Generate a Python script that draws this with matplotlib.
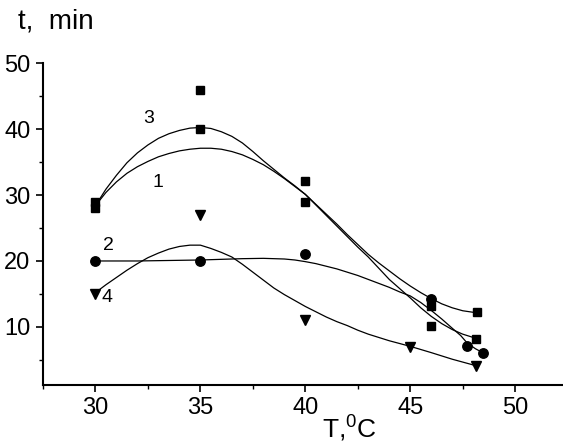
import numpy as np
import matplotlib.pyplot as plt

plt.rcParams['font.family'] = ['Liberation Sans', 'DejaVu Sans']
plt.rcParams['mathtext.fontset'] = 'custom'
plt.rcParams['mathtext.rm'] = 'Liberation Sans'
plt.rcParams['mathtext.it'] = 'Liberation Sans'

# measured points
sq1_T = [30, 35, 40, 46, 48.2]
sq1_t = [28, 46, 32.2, 13.1, 12.2]
sq3_T = [30, 35, 40, 46, 48.15]
sq3_t = [29, 40, 29, 10.2, 8.1]
ci2_T = [30, 35, 40, 46, 47.7, 48.45]
ci2_t = [20, 20, 21, 14.2, 7.1, 6.1]
tr4_T = [30, 35, 40, 45, 48.15]
tr4_t = [15, 27, 11, 7, 4.1]

# fitted curves
c1_T = [30.1, 30.5, 31, 31.5, 32, 32.5, 33, 33.5, 34, 34.5, 35, 35.5, 36, 36.5, 37, 37.5, 38, 38.5,
        39, 39.5, 40, 40.5, 41, 41.5, 42, 42.5, 43, 43.5, 44, 44.5, 45, 45.5, 46, 46.5, 47, 47.5, 48.25]
c1_t = [28.8, 30.4, 32.0, 33.3, 34.3, 35.1, 35.8, 36.3, 36.7, 36.95, 37.1, 37.1, 36.95, 36.6, 36.1, 35.4, 34.6, 33.6,
        32.5, 31.3, 30.1, 28.6, 27.1, 25.6, 24.0, 22.5, 21.0, 19.7, 18.5, 17.3, 16.2, 15.2, 14.3, 13.5, 12.9, 12.45, 12.1]
c3_T = [30.1, 30.5, 31, 31.5, 32, 32.5, 33, 33.5, 34, 34.5, 35, 35.5, 36, 36.5, 37, 37.5, 38, 38.5,
        39, 39.5, 40, 40.5, 41, 41.5, 42, 42.5, 43, 43.5, 44, 44.5, 45, 45.5, 46, 46.5, 47, 47.5, 48.1]
c3_t = [28.9, 30.9, 33.0, 34.9, 36.4, 37.6, 38.6, 39.3, 39.8, 40.15, 40.25, 40.1, 39.6, 38.9, 37.9, 36.6, 35.2, 33.9,
        32.6, 31.4, 30.1, 28.5, 26.9, 25.3, 23.7, 22.1, 20.6, 18.9, 17.2, 15.8, 14.4, 12.9, 11.6, 10.5, 9.6, 8.9, 8.3]
c2_T = [30, 31, 32, 33, 34, 35, 36, 37, 38, 39, 39.5, 40, 40.5, 41, 41.5, 42, 42.5, 43, 43.5, 44, 44.5,
        45, 45.5, 46, 46.5, 47, 47.4, 47.7, 48.1, 48.45]
c2_t = [20.0, 20.0, 20.0, 20.05, 20.1, 20.15, 20.25, 20.35, 20.4, 20.3, 20.15, 19.9, 19.6, 19.2, 18.8, 18.3, 17.8, 17.2, 16.6, 16.0, 15.3,
        14.7, 13.7, 12.5, 11.2, 9.8, 8.7, 7.6, 6.7, 6.1]
c4_T = [30, 30.5, 31, 31.5, 32, 32.5, 33, 33.5, 34, 34.5, 35, 35.5, 36, 36.5, 37, 37.5, 38, 38.5, 39, 39.5,
        40, 40.5, 41, 41.5, 42, 42.5, 43, 44, 45, 46, 47, 48.15]
c4_t = [15.2, 16.4, 17.5, 18.6, 19.6, 20.5, 21.2, 21.8, 22.2, 22.4, 22.4, 21.9, 21.3, 20.6, 19.5, 18.3, 17.1, 15.9, 14.9, 14.0,
        13.1, 12.3, 11.5, 10.8, 10.2, 9.5, 8.9, 7.9, 7.05, 6.1, 5.1, 4.1]

# curve numbers
lab_txt = ['1', '2', '3', '4']
lab_T = [33.0, 30.64, 32.55, 30.56]
lab_t = [31.9, 22.3, 41.6, 14.4]

fig = plt.figure(figsize=(5.63, 4.45), dpi=100)
ax = fig.add_axes([0.0764, 0.135, 0.93, 0.723])

for T, t in [(c1_T, c1_t), (c3_T, c3_t), (c2_T, c2_t), (c4_T, c4_t)]:
    ax.plot(T, t, color='black', lw=0.9)

ax.plot(sq1_T, sq1_t, 's', color='black', ms=6.3, ls='none')
ax.plot(sq3_T, sq3_t, 's', color='black', ms=6.3, ls='none')
ax.plot(ci2_T, ci2_t, 'o', color='black', ms=6.8, ls='none')
ax.plot(tr4_T, tr4_t, 'v', color='black', ms=7.5, ls='none')

for s, x, y in zip(lab_txt, lab_T, lab_t):
    ax.text(x, y, s, fontsize=14, ha='center', va='center')

ax.set_xlim(27.5, 52.45)
ax.set_ylim(1.2, 50)
ax.set_xticks([30, 35, 40, 45, 50])
ax.set_xticks(np.arange(27.5, 52.5, 2.5), minor=True)
ax.set_yticks([10, 20, 30, 40, 50])
ax.set_yticks([5, 15, 25, 35, 45], minor=True)
ax.tick_params(which='major', direction='out', length=5, width=1.2, labelsize=17, pad=4)
ax.tick_params(which='minor', direction='out', length=3, width=1)
for side in ['top', 'right']:
    ax.spines[side].set_visible(False)
for side in ['left', 'bottom']:
    ax.spines[side].set_linewidth(1.5)

fig.text(0.032, 0.952, 't,  min', fontsize=20, ha='left', va='center')
ax.set_xlabel('T,$^{0}$C', fontsize=19)
ax.xaxis.set_label_coords(0.585, -0.137)
ax.xaxis.label.set_va('center')

fig.savefig('out.png', dpi=100)
